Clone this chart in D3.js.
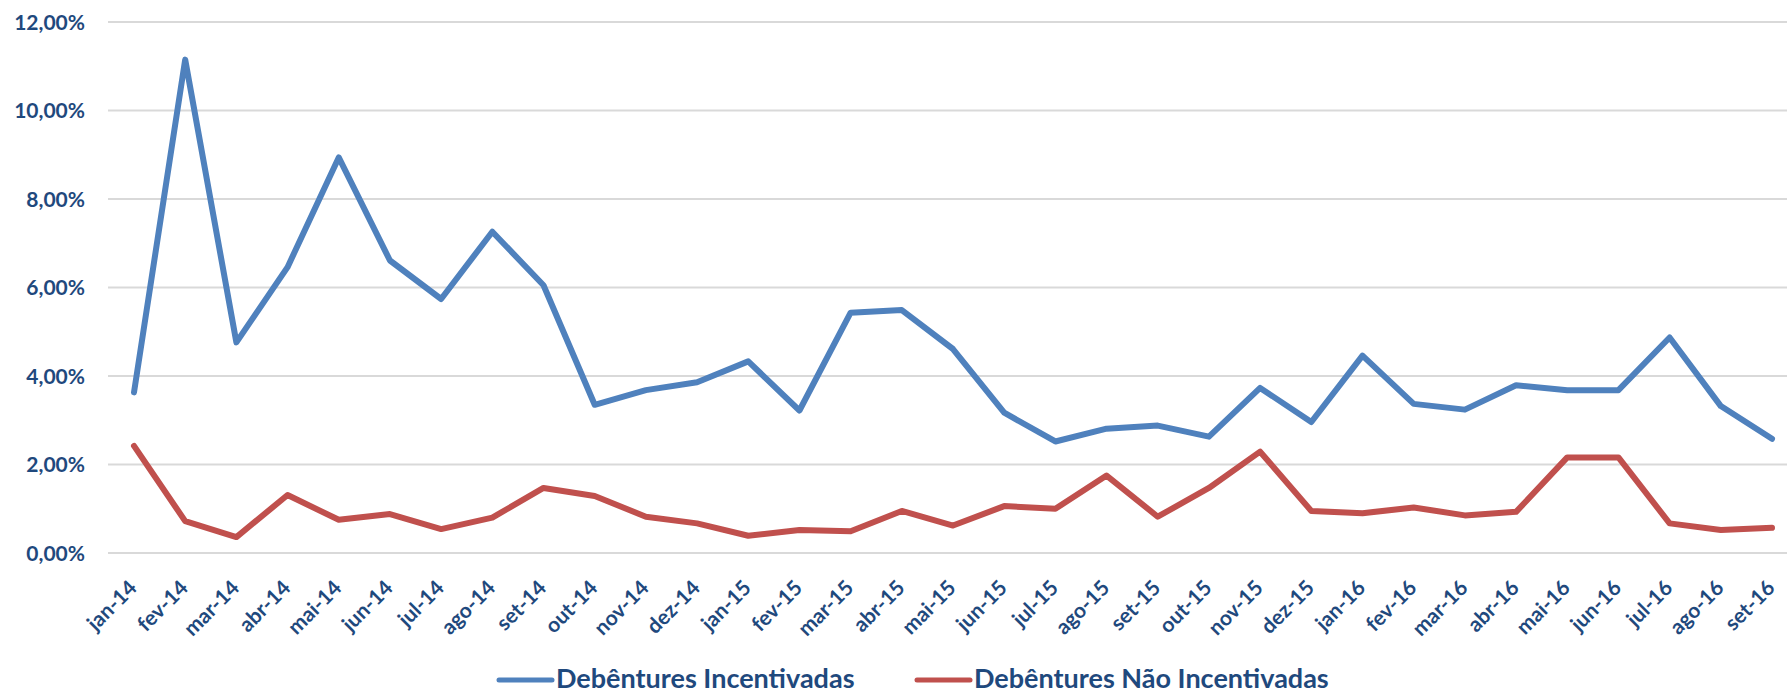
<!DOCTYPE html>
<meta charset="utf-8">
<html>
  <head>
    <title>Debêntures</title>
    <style>
      body { margin: 0; background: #fff; }
      .grid line { stroke: #d9d9d9; stroke-width: 2px; }
      .line { fill: none; stroke-width: 6px; stroke-linejoin: round; stroke-linecap: round; }
      text { font-family: Lato, "Open Sans", sans-serif; font-weight: bold; fill: #1f497d; }
    </style>
  </head>
  <body>
    <script src="https://d3js.org/d3.v7.min.js"></script>
    <script>

      var months = ["jan-14","fev-14","mar-14","abr-14","mai-14","jun-14","jul-14","ago-14","set-14","out-14","nov-14","dez-14",
                    "jan-15","fev-15","mar-15","abr-15","mai-15","jun-15","jul-15","ago-15","set-15","out-15","nov-15","dez-15",
                    "jan-16","fev-16","mar-16","abr-16","mai-16","jun-16","jul-16","ago-16","set-16"];

      // % values
      var incentivadas = [3.63, 11.15, 4.76, 6.46, 8.94, 6.61, 5.74, 7.26, 6.05, 3.35, 3.68, 3.86,
                          4.33, 3.22, 5.43, 5.49, 4.61, 3.17, 2.52, 2.81, 2.88, 2.63, 3.73, 2.96,
                          4.46, 3.37, 3.24, 3.79, 3.68, 3.68, 4.87, 3.32, 2.58];
      var naoIncentivadas = [2.42, 0.72, 0.36, 1.31, 0.75, 0.88, 0.54, 0.80, 1.47, 1.29, 0.82, 0.67,
                             0.39, 0.52, 0.49, 0.95, 0.62, 1.06, 1.00, 1.75, 0.82, 1.47, 2.29, 0.95,
                             0.90, 1.03, 0.85, 0.93, 2.16, 2.16, 0.67, 0.52, 0.57];

      var yTicks = [0, 2, 4, 6, 8, 10, 12];

      var seriesNames = ["Debêntures Incentivadas", "Debêntures Não Incentivadas"];
      var seriesColors = ["#4f81bd", "#c0504d"];

      var width = 1787, height = 694;

      var ptBR = d3.formatLocale({decimal: ",", thousands: ".", grouping: [3], currency: ["R$", ""]});
      var fmt = function(d) { return ptBR.format(".2f")(d) + "%"; };

      var x = d3.scalePoint().domain(months).range([134, 1772]);
      var y = d3.scaleLinear().domain([0, 12]).range([553, 22]);

      var svg = d3.select("body").append("svg")
          .attr("width", width)
          .attr("height", height);

      // gridlines
      svg.append("g")
          .attr("class", "grid")
        .selectAll("line")
        .data(yTicks)
        .enter().append("line")
          .attr("x1", 108)
          .attr("x2", width)
          .attr("y1", function(d) { return y(d); })
          .attr("y2", function(d) { return y(d); });

      // y axis labels
      svg.append("g")
        .selectAll("text")
        .data(yTicks)
        .enter().append("text")
          .attr("x", 85)
          .attr("y", function(d) { return y(d); })
          .attr("dy", "0.36em")
          .attr("text-anchor", "end")
          .style("font-size", "21px")
          .text(fmt);

      // x axis labels
      svg.append("g")
        .selectAll("text")
        .data(months)
        .enter().append("text")
          .attr("transform", function(d) { return "translate(" + (x(d) - 1) + ",584) rotate(-45)"; })
          .attr("dy", "0.35em")
          .attr("text-anchor", "end")
          .style("font-size", "21px")
          .text(function(d) { return d; });

      var valueline = d3.line()
          .x(function(d, i) { return x(months[i]); })
          .y(function(d) { return y(d); });

      [incentivadas, naoIncentivadas].forEach(function(s, i) {
        svg.append("path")
            .datum(s)
            .attr("class", "line")
            .attr("stroke", seriesColors[i])
            .attr("d", valueline);
      });

      // legend
      var legendX = [499, 917];
      var legend = svg.append("g");
      seriesNames.forEach(function(name, i) {
        legend.append("line")
            .attr("x1", legendX[i]).attr("x2", legendX[i] + 53)
            .attr("y1", 680).attr("y2", 680)
            .attr("stroke", seriesColors[i])
            .attr("stroke-width", 5)
            .attr("stroke-linecap", "round");
        legend.append("text")
            .attr("x", legendX[i] + 57)
            .attr("y", 688)
            .style("font-size", "27px")
            .text(name);
      });

    </script>
  </body>
</html>
